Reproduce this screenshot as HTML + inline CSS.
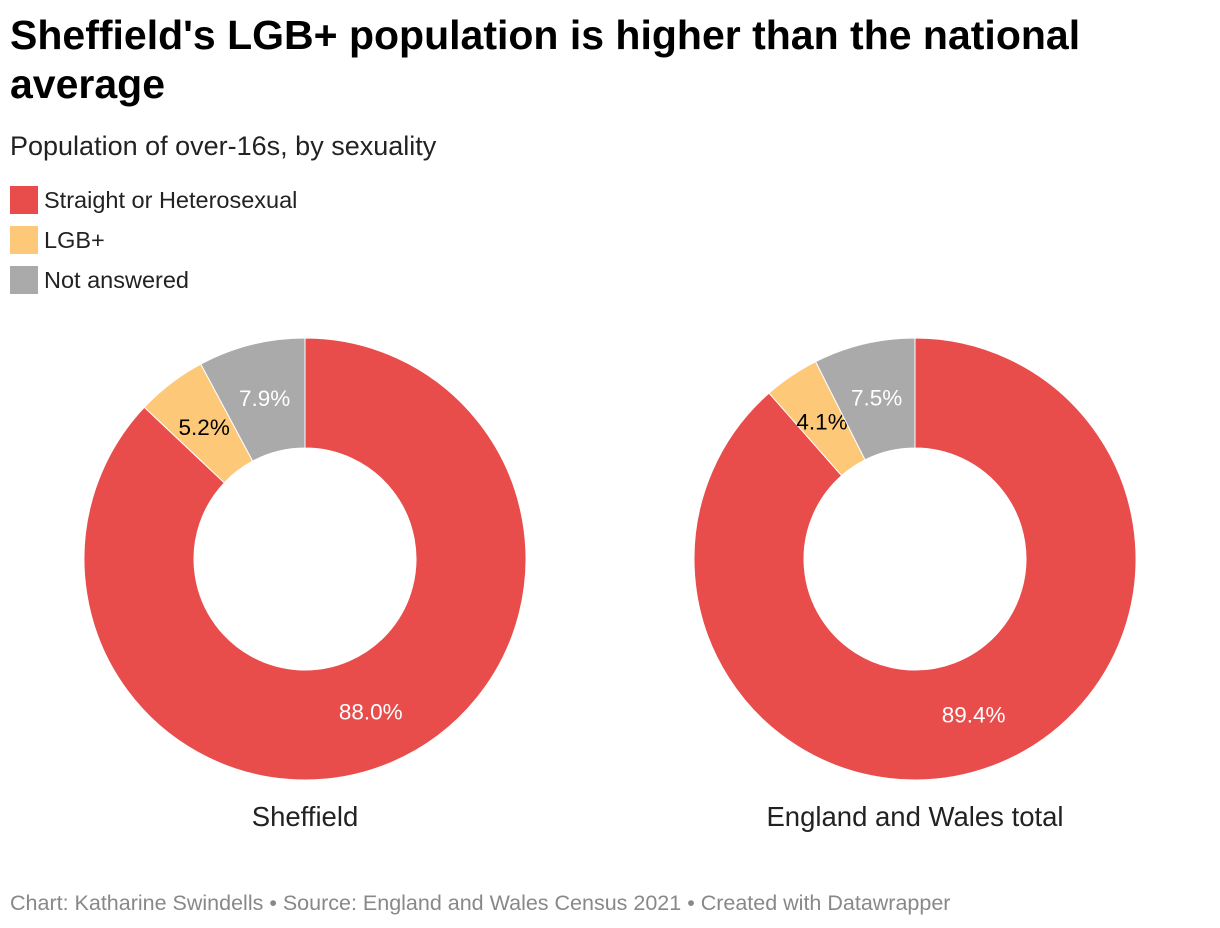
<!DOCTYPE html>
<html><head><meta charset="utf-8">
<style>
body{margin:0;width:1220px;height:928px;background:#fff;font-family:"Liberation Sans",Arial,sans-serif;position:relative;overflow:hidden}
.t{position:absolute;left:10px;top:11px;font-size:41px;font-weight:bold;line-height:49px;color:#000;width:1100px;letter-spacing:0}
.s{position:absolute;left:10px;top:131px;font-size:27px;color:#222}
.lg{position:absolute;left:10px;font-size:23.5px;color:#222;display:flex;align-items:center}
.lg span{display:inline-block;width:28px;height:28px;margin-right:6px}
.f{position:absolute;left:10px;top:891px;font-size:21.5px;color:#888}
</style></head><body>
<div class="t">Sheffield's LGB+ population is higher than the national average</div>
<div class="s">Population of over-16s, by sexuality</div>
<div class="lg" style="top:186px"><span style="background:#e84c4b"></span>Straight or Heterosexual</div>
<div class="lg" style="top:226px"><span style="background:#fdc877"></span>LGB+</div>
<div class="lg" style="top:266px"><span style="background:#aaaaaa"></span>Not answered</div>
<svg id="c" width="1220" height="928" style="position:absolute;left:0;top:0"></svg>
<div class="f">Chart: Katharine Swindells • Source: England and Wales Census 2021 • Created with Datawrapper</div>
<script>
const regions=["Sheffield","England and Wales total"];
const categories=["Straight or Heterosexual","LGB+","Not answered"];
const sheffieldValues=[88.0,5.2,7.9];
const englandValues=[89.4,4.1,7.5];
const colors=["#e84c4b","#fdc877","#aaaaaa"];
const labelColors=["#fff","#000","#fff"];
const svg=document.getElementById('c');
const NS="http://www.w3.org/2000/svg";
const centers=[305,915], cy=559, R=221, r=111;
function pt(cx,rad,a){return [cx+rad*Math.sin(a),cy-rad*Math.cos(a)];}
[sheffieldValues,englandValues].forEach((vals,i)=>{
  const cx=centers[i];const tot=vals.reduce((a,b)=>a+b,0);let a0=0;
  vals.forEach((v,j)=>{
    const a1=a0+v/tot*2*Math.PI;const lg=(a1-a0)>Math.PI?1:0;
    const p1=pt(cx,R,a0),p2=pt(cx,R,a1),p3=pt(cx,r,a1),p4=pt(cx,r,a0);
    const p=document.createElementNS(NS,'path');
    p.setAttribute('d',`M${p1}A${R},${R} 0 ${lg} 1 ${p2}L${p3}A${r},${r} 0 ${lg} 0 ${p4}Z`);
    p.setAttribute('fill',colors[j]);p.setAttribute('stroke','#fff');p.setAttribute('stroke-width','1');
    
    
    svg.appendChild(p);
    const m=(a0+a1)/2;const lp=pt(cx,166,m);
    const t=document.createElementNS(NS,'text');
    t.setAttribute('x',lp[0]);t.setAttribute('y',lp[1]+8);t.setAttribute('text-anchor','middle');
    t.setAttribute('font-size','22.5');t.setAttribute('fill',labelColors[j]);
    t.textContent=v.toFixed(1)+'%';
    
    
    svg.appendChild(t);
    a0=a1;
  });
  const t=document.createElementNS(NS,'text');
  t.setAttribute('x',cx);t.setAttribute('y',826);t.setAttribute('text-anchor','middle');
  t.setAttribute('font-size','27.5');t.setAttribute('fill','#222');t.textContent=regions[i];
  
  
  svg.appendChild(t);
});
</script>
</body></html>
